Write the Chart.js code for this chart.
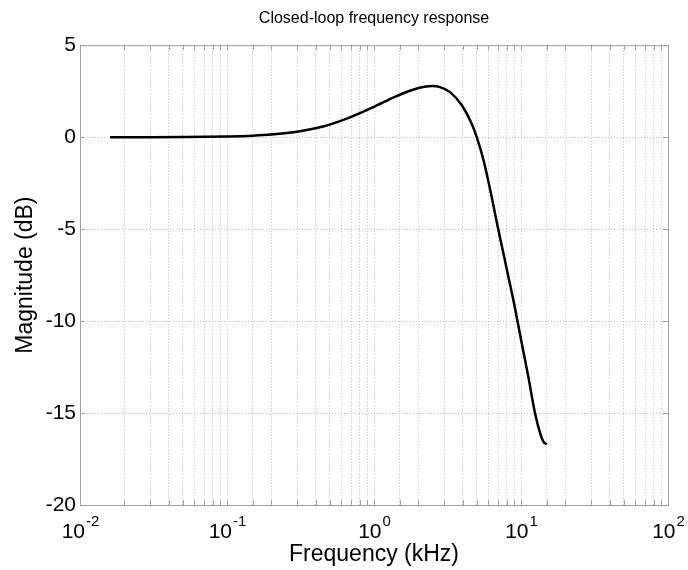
<!DOCTYPE html>
<html>
<head>
<meta charset="utf-8">
<script src="https://cdn.jsdelivr.net/npm/chart.js@4"></script>
<style>
  html, body { margin: 0; padding: 0; background: #fff; }
  #wrap { width: 688px; height: 570px; }
</style>
</head>
<body>
<div id="wrap"><canvas id="freqChart" width="688" height="570"></canvas></div>
<script>
// frequência em kHz e magnitude em dB
const freqKHz = [0.016, 0.03, 0.05, 0.1, 0.15, 0.2, 0.3, 0.4, 0.5, 0.7, 1.0, 1.4, 1.8, 2.2, 2.5, 2.81, 3.29, 3.97, 4.62, 5.0, 5.54, 6.15, 7.0, 7.99, 9.0, 10.0, 11.2, 12.45, 13.5, 14.2, 14.96];
const magDB = [0, 0, 0.01, 0.04, 0.08, 0.14, 0.3, 0.48, 0.68, 1.1, 1.65, 2.2, 2.55, 2.74, 2.78, 2.72, 2.45, 1.72, 0.73, 0, -1.2, -2.8, -5.0, -7.15, -9.1, -11.0, -13.0, -15.0, -16.1, -16.55, -16.7];
const yTicks = [5, 0, -5, -10, -15, -20];
const decadeExp = [-2, -1, 0, 1, 2];

const axisGray = '#a0a0a0';
const gridGray = '#bdbdbd';
const fontFam = '"Liberation Sans", Arial, sans-serif';

// caixa em volta da área, marcas internas e rótulos 10^n
const boxPlugin = {
  id: 'boxPlugin',
  afterDraw(chart) {
    const { ctx, chartArea: a, scales } = chart;
    ctx.save();
    ctx.strokeStyle = axisGray;
    ctx.lineWidth = 1;
    ctx.setLineDash([]);
    ctx.strokeRect(a.left + 0.5, a.top + 0.5, a.right - a.left, a.bottom - a.top);
    ctx.beginPath();
    scales.x.ticks.forEach(t => {
      const px = Math.round(scales.x.getPixelForValue(t.value)) + 0.5;
      ctx.moveTo(px, a.bottom); ctx.lineTo(px, a.bottom - 5);
      ctx.moveTo(px, a.top); ctx.lineTo(px, a.top + 5);
    });
    scales.y.ticks.forEach(t => {
      const py = Math.round(scales.y.getPixelForValue(t.value)) + 0.5;
      ctx.moveTo(a.left, py); ctx.lineTo(a.left + 5, py);
      ctx.moveTo(a.right, py); ctx.lineTo(a.right - 5, py);
    });
    ctx.stroke();

    // rótulos do eixo x com expoente sobrescrito
    ctx.fillStyle = '#000';
    ctx.textBaseline = 'alphabetic';
    ctx.textAlign = 'left';
    const baseFont = '21px ' + fontFam;
    const expFont = '15px ' + fontFam;
    decadeExp.forEach(e => {
      const px = scales.x.getPixelForValue(Math.pow(10, e));
      ctx.font = baseFont;
      const wBase = ctx.measureText('10').width;
      ctx.font = expFont;
      const expText = String(e);
      const wExp = ctx.measureText(expText).width;
      const x0 = px - (wBase + wExp) / 2;
      ctx.font = baseFont;
      ctx.fillText('10', x0, a.bottom + 33);
      ctx.font = expFont;
      ctx.fillText(expText, x0 + wBase + 1, a.bottom + 21);
    });
    ctx.restore();
  }
};

new Chart(document.getElementById('freqChart').getContext('2d'), {
  type: 'line',
  data: {
    datasets: [{
      data: freqKHz.map((f, i) => ({ x: f, y: magDB[i] })),
      borderColor: '#000',
      borderWidth: 2.5,
      pointRadius: 0,
      cubicInterpolationMode: 'monotone',
      fill: false
    }]
  },
  options: {
    responsive: false,
    animation: false,
    layout: { padding: { left: 0, right: 20, top: 0, bottom: 0 } },
    plugins: {
      legend: { display: false },
      tooltip: { enabled: false },
      title: {
        display: true,
        fullSize: false,
        text: 'Closed-loop frequency response',
        color: '#000',
        font: { family: fontFam, size: 16, weight: 'normal' },
        padding: { top: 9, bottom: 17 }
      }
    },
    scales: {
      x: {
        type: 'logarithmic',
        min: 0.01,
        max: 100,
        border: { display: false, dash: [1, 2] },
        grid: { color: gridGray, lineWidth: 1, drawTicks: false },
        ticks: {
          display: false,
          autoSkip: false,
          maxRotation: 0
        },
        title: {
          display: true,
          text: 'Frequency (kHz)',
          color: '#000',
          font: { family: fontFam, size: 23 },
          padding: { top: 0, bottom: 2 }
        },
        afterFit: (s) => { s.height = 65; }
      },
      y: {
        min: -20,
        max: 5,
        border: { display: false, dash: [1, 2] },
        grid: { color: gridGray, drawTicks: false },
        afterBuildTicks: (s) => { s.ticks = yTicks.map(v => ({ value: v })); },
        ticks: {
          color: '#000',
          padding: 4,
          font: { family: fontFam, size: 21 },
          callback: (v) => String(v)
        },
        title: {
          display: true,
          text: 'Magnitude (dB)',
          color: '#000',
          font: { family: fontFam, size: 23 },
          padding: { top: 12, bottom: 0 }
        },
        afterFit: (s) => { s.width = 80; }
      }
    }
  },
  plugins: [boxPlugin]
});
</script>
</body>
</html>
